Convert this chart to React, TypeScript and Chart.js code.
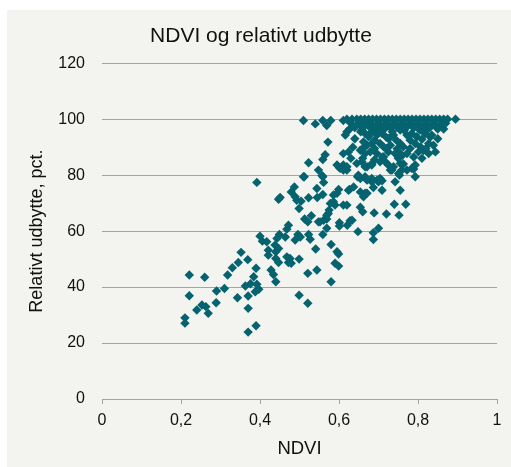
import React, { useEffect, useRef } from "react";
import { Chart, registerables } from "chart.js";

Chart.register(...registerables);

const TITLE = "NDVI og relativt udbytte";
const X_TITLE = "NDVI";
const Y_TITLE = "Relativt udbytte, pct.";
const X_TICKS = [0, 0.2, 0.4, 0.6, 0.8, 1];
const Y_TICKS = [0, 20, 40, 60, 80, 100, 120];

// NDVI values (x)
const ndvi = [
  // lower-left cluster
  0.400, 0.406, 0.352, 0.369, 0.345, 0.330, 0.390, 0.318, 0.221, 0.260, 0.384, 0.363, 0.376, 0.392, 0.397, 0.310,
  0.290, 0.221, 0.343, 0.370, 0.388, 0.289, 0.253, 0.263, 0.240, 0.269, 0.370, 0.210, 0.210, 0.390, 0.370, 0.392,
  // middle
  0.512, 0.559, 0.561, 0.487, 0.544, 0.479, 0.489, 0.493, 0.504, 0.447, 0.523, 0.559, 0.499, 0.578, 0.575, 0.569,
  0.513, 0.521, 0.530, 0.548, 0.561, 0.569, 0.569, 0.472, 0.468, 0.449, 0.443, 0.464, 0.496, 0.502, 0.489, 0.523,
  0.527, 0.559, 0.417, 0.421, 0.421, 0.438, 0.447, 0.440, 0.541, 0.580, 0.440, 0.447, 0.468, 0.476, 0.472, 0.479,
  0.499, 0.428, 0.434, 0.440, 0.521, 0.544, 0.580, 0.499, 0.521, 0.523, 0.451, 0.545, 0.595, 0.599, 0.590, 0.599,
  // mid-right
  0.595, 0.586, 0.624, 0.637, 0.666, 0.662, 0.687, 0.709, 0.700, 0.755, 0.740, 0.769, 0.590, 0.611, 0.654, 0.660,
  0.689, 0.720, 0.752, 0.601, 0.628, 0.621, 0.648, 0.700, 0.687, 0.687, 0.599, 0.586, 0.620, 0.573, 0.552, 0.601,
  0.633, 0.627, 0.654, 0.671, 0.647, 0.654, 0.671, 0.683, 0.696, 0.704, 0.734, 0.753, 0.742, 0.666, 0.683, 0.717,
  0.709, 0.601, 0.611, 0.620,
  // upper band 80-95
  0.572, 0.565, 0.559, 0.595, 0.603, 0.611, 0.620, 0.548, 0.557, 0.510,
  0.620, 0.616, 0.658, 0.666, 0.675, 0.683, 0.696, 0.709, 0.725, 0.738, 0.755, 0.772, 0.784, 0.797, 0.818, 0.835,
  0.662, 0.671, 0.683, 0.704, 0.713, 0.730, 0.755, 0.763, 0.793, 0.806, 0.827, 0.839,
  0.611, 0.624, 0.654, 0.666, 0.679, 0.696, 0.713, 0.725, 0.742, 0.772, 0.789, 0.801, 0.827, 0.844,
  0.645, 0.658, 0.671, 0.683, 0.704, 0.725, 0.738, 0.755, 0.772, 0.784, 0.793,
  0.649, 0.666, 0.683, 0.700, 0.730, 0.751, 0.759, 0.793, 0.730, 0.747, 0.814, 0.831, 0.865, 0.763, 0.789,
  0.635, 0.655, 0.675, 0.695, 0.715, 0.735, 0.745, 0.765, 0.785, 0.805, 0.825, 0.845, 0.860,
  0.640, 0.690, 0.720, 0.745, 0.780, 0.810, 0.850,
  0.635, 0.660, 0.690, 0.720, 0.750, 0.780, 0.820,
  0.630, 0.660, 0.690, 0.710, 0.750, 0.760, 0.810,
  // top rows ~100
  0.510, 0.559, 0.579, 0.611, 0.620, 0.633, 0.645, 0.655, 0.665, 0.675, 0.685, 0.695, 0.705, 0.715, 0.725, 0.735,
  0.745, 0.755, 0.765, 0.775, 0.785, 0.795, 0.805, 0.815, 0.825, 0.835, 0.845, 0.855, 0.865, 0.875, 0.895,
  0.540, 0.569, 0.630, 0.650, 0.665, 0.680, 0.700, 0.720, 0.740, 0.760, 0.780, 0.800, 0.820, 0.840, 0.860, 0.870,
  0.627, 0.640, 0.660, 0.690, 0.710, 0.730, 0.750, 0.770, 0.790, 0.810, 0.830, 0.850,
];

// Relative yield, pct. (y)
const yieldPct = [
  // lower-left cluster
  58.2, 56.4, 52.4, 49.8, 48.8, 46.9, 46.7, 44.3, 44.3, 43.5, 43.7, 40.4, 41.2, 41.0, 39.2, 39.5,
  38.6, 36.9, 36.2, 36.8, 38.3, 34.4, 33.6, 33.0, 31.8, 30.6, 32.4, 29.0, 27.1, 26.2, 23.9, 77.4,
  // middle
  79.4, 79.4, 77.4, 75.8, 75.2, 74.0, 72.3, 71.0, 70.7, 71.4, 71.9, 73.1, 68.1, 69.9, 67.5, 65.7,
  64.3, 63.3, 65.5, 63.3, 63.9, 64.3, 61.0, 62.1, 60.7, 58.8, 57.4, 57.9, 58.8, 57.9, 56.8, 58.8,
  57.1, 58.8, 56.2, 53.2, 51.4, 55.0, 53.8, 52.6, 53.6, 55.2, 50.2, 48.8, 50.8, 50.2, 48.8, 48.5,
  50.0, 46.1, 44.5, 41.9, 44.9, 46.1, 41.9, 37.1, 34.2, 84.4, 72.0, 72.0, 52.6, 51.8, 48.5, 47.5,
  // mid-right
  73.5, 72.9, 74.6, 75.8, 73.5, 72.3, 75.6, 74.6, 77.6, 74.6, 69.6, 69.6, 69.3, 69.3, 68.5, 66.9,
  66.5, 66.1, 65.7, 63.0, 63.7, 62.1, 59.8, 61.0, 59.4, 57.0, 74.9, 70.5, 69.3, 66.3, 63.3, 61.8,
  63.9, 74.9, 74.0, 73.5, 79.4, 78.8, 78.2, 77.6, 78.2, 78.8, 81.8, 80.0, 77.6, 83.0, 84.1, 84.8,
  78.0, 82.7, 83.6, 81.8,
  // upper band 80-95
  91.8, 87.3, 85.6, 83.6, 82.4, 81.8, 83.0, 81.8, 79.9, 79.4,
  95.5, 94.3, 96.1, 94.9, 93.7, 95.5, 94.3, 94.9, 93.1, 94.3, 96.1, 94.3, 94.9, 93.7, 94.9, 94.3,
  91.9, 90.7, 91.3, 91.3, 90.1, 90.7, 91.3, 90.1, 91.3, 90.1, 91.3, 90.7,
  87.7, 88.3, 88.9, 87.7, 88.3, 87.7, 86.5, 88.3, 87.7, 87.7, 86.5, 88.3, 87.7, 88.3,
  84.2, 84.8, 83.0, 83.6, 84.8, 83.6, 83.0, 84.2, 81.8, 82.4, 83.6,
  80.0, 79.4, 78.8, 78.2, 81.8, 80.6, 81.8, 79.4, 93.6, 89.4, 88.8, 93.6, 96.5, 84.0, 82.2,
  97.5, 95.5, 97.5, 96.0, 96.5, 95.5, 97.5, 96.0, 97.5, 96.0, 96.5, 97.5, 98.0,
  93.0, 92.5, 93.5, 92.5, 92.5, 92.8, 93.0,
  90.0, 89.5, 89.5, 89.5, 88.5, 89.5, 89.5,
  86.0, 86.0, 85.5, 86.5, 86.0, 87.0, 86.0,
  // top rows ~100
  99.5, 99.5, 99.5, 99.5, 100, 100, 100, 100, 100, 100, 100, 100, 100, 100, 100, 100,
  100, 100, 100, 100, 100, 100, 100, 100, 100, 100, 100, 100, 100, 100, 100,
  98.3, 97.7, 98.5, 98.5, 98.5, 98.5, 98.5, 98.5, 98.5, 98.5, 98.5, 98.5, 98.5, 98.5, 98.5, 98.5,
  96.5, 97.0, 97.0, 97.0, 97.0, 97.0, 97.0, 97.0, 97.0, 97.0, 97.0, 96.5,
];

const BG = "#f3f3ef";
const POINT = "#05636f";
const GRID = "#a3a3a3";
const FONT = "'Liberation Sans', Arial, sans-serif";

export default function App() {
  const ref = useRef<HTMLCanvasElement | null>(null);

  useEffect(() => {
    if (!ref.current) return;
    const data = ndvi.map((x, i) => ({ x, y: yieldPct[i] }));
    const fmt = (v: number) =>
      v === 0 || v === 1 ? String(v) : v.toFixed(1).replace(".", ",");
    const chart = new Chart(ref.current, {
      type: "scatter",
      data: {
        datasets: [
          {
            data,
            pointStyle: "rectRot",
            pointRadius: 4.7,
            pointBorderWidth: 0,
            backgroundColor: POINT,
            borderColor: POINT,
          },
        ],
      },
      options: {
        animation: false,
        responsive: false,
        layout: { padding: { left: 18, right: 14, top: 0, bottom: 0 } },
        plugins: {
          legend: { display: false },
          tooltip: { enabled: false },
          title: {
            display: true,
            text: TITLE,
            color: "#111",
            font: { family: FONT, size: 21, weight: "normal" },
            padding: { top: 14, bottom: 14 },
          },
        },
        scales: {
          x: {
            type: "linear",
            min: 0,
            max: 1,
            afterBuildTicks: (s: any) => {
              s.ticks = X_TICKS.map((v) => ({ value: v }));
            },
            afterFit: (s: any) => {
              s.height = 68;
            },
            grid: {
              display: true,
              drawOnChartArea: false,
              drawTicks: true,
              tickLength: 5,
              color: GRID,
            },
            border: { display: true, color: GRID, width: 1 },
            ticks: {
              color: "#111",
              font: { family: FONT, size: 16 },
              padding: 7,
              maxRotation: 0,
              callback: (v: any) => fmt(Number(v)),
            },
            title: {
              display: true,
              text: X_TITLE,
              color: "#111",
              font: { family: FONT, size: 18.5 },
              padding: { top: 0, bottom: 7 },
            },
          },
          y: {
            type: "linear",
            min: 0,
            max: 120,
            afterBuildTicks: (s: any) => {
              s.ticks = Y_TICKS.map((v) => ({ value: v }));
            },
            afterFit: (s: any) => {
              s.width = 77;
            },
            grid: {
              display: true,
              drawTicks: false,
              color: GRID,
              lineWidth: 1,
            },
            border: { display: false },
            ticks: {
              color: "#111",
              font: { family: FONT, size: 16 },
              padding: 17,
            },
            title: {
              display: true,
              text: Y_TITLE,
              color: "#111",
              font: { family: FONT, size: 18 },
              padding: { top: 1, bottom: 0 },
            },
          },
        },
      },
    });
    return () => chart.destroy();
  }, []);

  return (
    <div
      style={{
        position: "fixed",
        left: 7,
        top: 10,
        width: 504,
        height: 457,
        background: BG,
      }}
    >
      <canvas ref={ref} width={504} height={457} style={{ display: "block" }} />
    </div>
  );
}
